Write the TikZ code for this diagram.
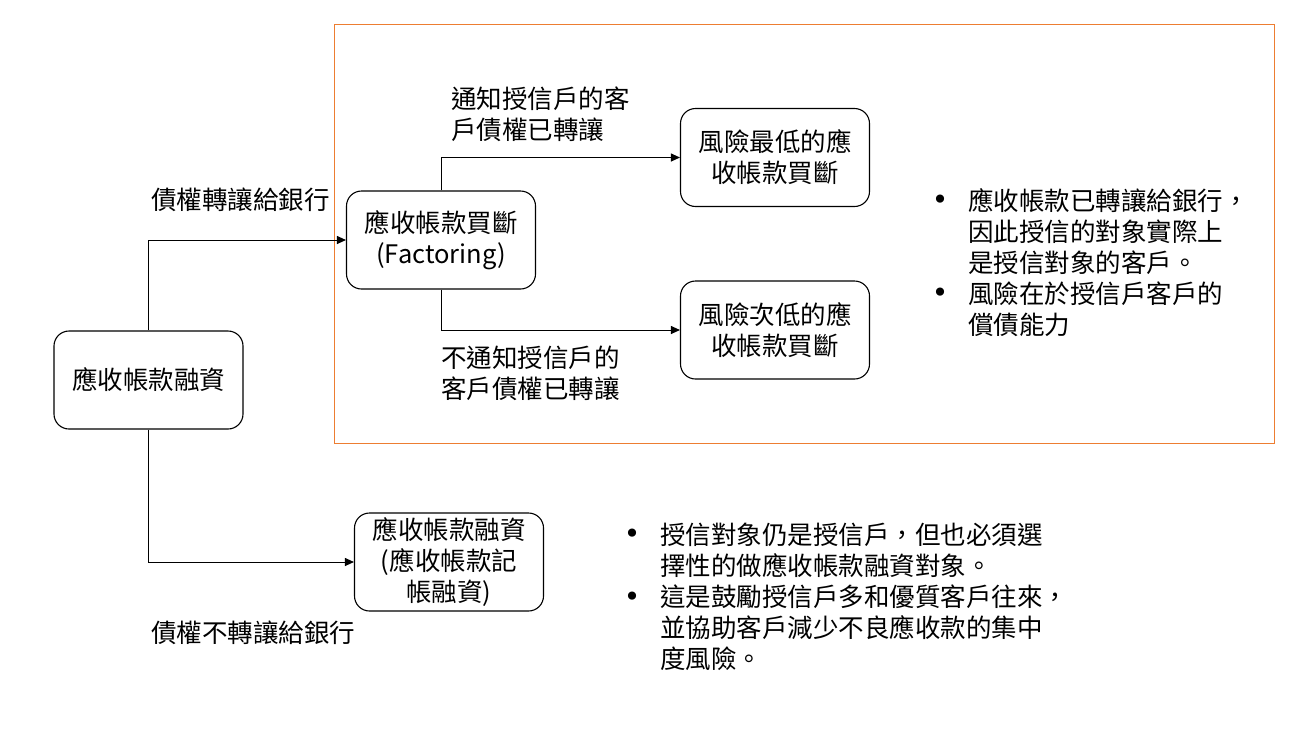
\documentclass[tikz,border=0pt]{standalone}
\usepackage{fontspec}
\setmainfont{Noto Sans CJK TC}
\newfontfamily\symfont{DejaVu Sans}
\usetikzlibrary{arrows.meta}
\definecolor{frameorange}{RGB}{237,125,49}

\tikzstyle{block}=[draw,rounded corners=15pt,minimum width=189pt,minimum height=98pt,line width=1.1pt,align=center,inner sep=0pt]
\tikzstyle{edge} = [draw,line width=1pt,-{Triangle[length=9pt,width=8pt]}]
\tikzstyle{note} = [anchor=west,align=left,inner sep=0pt]
\tikzstyle{dot} = [inner sep=0pt,font=\symfont\fontsize{28}{28}\selectfont]

\begin{document}
\begin{tikzpicture}[x=1pt,y=-1pt,every node/.style={font=\fontsize{25.5}{31}\selectfont}]
                  \useasboundingbox (0,0) rectangle (1306,731);
                  % Frame round the factoring branch
                  \draw[frameorange,line width=1pt] (334,24) rectangle (1274,443);
                  % First we draw the boxes
                  \foreach \pos/\name/\la in {{(148.5,380)/A/{應收帳款融資}},
                  {(441,240)/F/{應收帳款買斷\\(Factoring)}},
                  {(775,157.5)/L/{風險最低的應\\收帳款買斷}},
                  {(775,330)/N/{風險次低的應\\收帳款買斷}},
                  {(449,562)/R/{應收帳款融資\\(應收帳款記\\帳融資)}}}
                        \node[block] (\name) at \pos {\la};
                  % Connect boxes with elbow arrows
                  \foreach \source/ \dest in {A/F,A/R,F/L,F/N}
                  \path[edge] (\source) |- (\dest);
                  % Labels of the arrows
                  \node[note] (t1) at (151,200) {債權轉讓給銀行};
                  \node[note] (t2) at (151,633) {債權不轉讓給銀行};
                  \node[note] (t3) at (451,114) {通知授信戶的客\\戶債權已轉讓};
                  \node[note] (t4) at (441,373) {不通知授信戶的\\客戶債權已轉讓};
                  % Bullet notes
                  \node[note] (n1) at (968,263) {應收帳款已轉讓給銀行，\\因此授信的對象實際上\\是授信對象的客戶。\\風險在於授信戶客戶的\\償債能力};
                  \node[note] (n2) at (660,597) {授信對象仍是授信戶，但也必須選\\擇性的做應收帳款融資對象。\\這是鼓勵授信戶多和優質客戶往來，\\並協助客戶減少不良應收款的集中\\度風險。};
                  \foreach \pos/\name in {(940,202)/b1,(940,295)/b2,(632,536)/b3,(632,599)/b4}
                        \node[dot] (\name) at \pos {•};
            \end{tikzpicture}
\end{document}
